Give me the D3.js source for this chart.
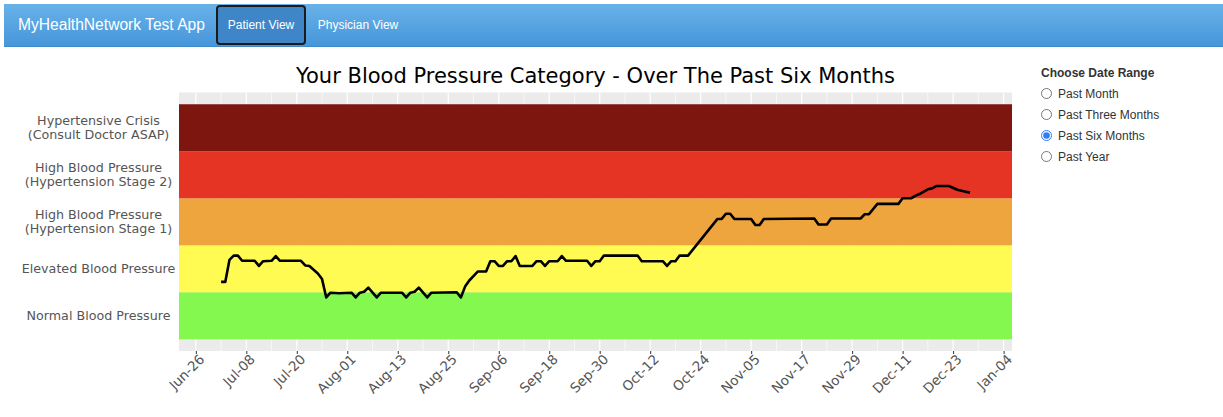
<!DOCTYPE html>
<html>
<head>
<meta charset="utf-8">
<script src="https://cdn.jsdelivr.net/npm/d3@7"></script>
<style>
  body { margin: 0; background: #fff; font-family: "Liberation Sans", Arial, sans-serif; }
  .navbar {
    position: absolute; left: 4px; top: 4px; width: 1219px; height: 42px;
    background: linear-gradient(#68b2e9, #4796da);
    border-bottom: 1px solid #3f8acb;
  }
  .brand { position: absolute; left: 14px; top: 12px; font-size: 15.6px; color: #fff; }
  .nav-btn {
    position: absolute; top: 1px; height: 40px; box-sizing: border-box;
    font-size: 12px; color: #fff; line-height: 40px; text-align: center;
  }
  .nav-btn.active { left: 212px; width: 90px; background: #3e86c7; border: 2px solid #1b1b1b; border-radius: 4px; line-height: 36px; }
  .nav-btn.plain { left: 304px; width: 100px; }
  .panel { position: absolute; left: 1041px; top: 66px; font-size: 12px; color: #333; }
  .panel h4 { margin: 0 0 3px 0; font-size: 12px; font-weight: bold; }
  .panel label { display: flex; align-items: center; height: 21px; }
  .panel input { margin: 0 6px 0 0; width: 11px; height: 11px; accent-color: #2f7cf6; }
  #chart { position: absolute; left: 0; top: 0; }
</style>
</head>
<body>
<svg id="chart" width="1030" height="417"></svg>
<div class="navbar">
  <div class="brand">MyHealthNetwork Test App</div>
  <div class="nav-btn active">Patient View</div>
  <div class="nav-btn plain">Physician View</div>
</div>
<div class="panel">
  <h4>Choose Date Range</h4>
  <label><input type="radio" name="r">Past Month</label>
  <label><input type="radio" name="r">Past Three Months</label>
  <label><input type="radio" name="r" checked>Past Six Months</label>
  <label><input type="radio" name="r">Past Year</label>
</div>
<script>
// blood pressure categories, bottom to top
const categories = [
  ['Normal Blood Pressure'],
  ['Elevated Blood Pressure'],
  ['High Blood Pressure', '(Hypertension Stage 1)'],
  ['High Blood Pressure', '(Hypertension Stage 2)'],
  ['Hypertensive Crisis', '(Consult Doctor ASAP)']
];
const bandColors = ['#84f84f', '#fffb53', '#efa53e', '#e53324', '#7e1610'];

// x tick labels (every 12 days)
const tickDates = ['2019-06-26', '2019-07-08', '2019-07-20', '2019-08-01', '2019-08-13',
  '2019-08-25', '2019-09-06', '2019-09-18', '2019-09-30', '2019-10-12', '2019-10-24',
  '2019-11-05', '2019-11-17', '2019-11-29', '2019-12-11', '2019-12-23', '2020-01-04'];
const xLimits = ['2019-06-22', '2020-01-06'];

// category level over time (0 = bottom of Normal band)
const dates = ['2019-07-02', '2019-07-03', '2019-07-04', '2019-07-05', '2019-07-06', '2019-07-07',
  '2019-07-10', '2019-07-11', '2019-07-12', '2019-07-14', '2019-07-15', '2019-07-16',
  '2019-07-21', '2019-07-22', '2019-07-23', '2019-07-25', '2019-07-26', '2019-07-27',
  '2019-07-28', '2019-07-30', '2019-08-02', '2019-08-03', '2019-08-04', '2019-08-05',
  '2019-08-06', '2019-08-08', '2019-08-09', '2019-08-14', '2019-08-15', '2019-08-16',
  '2019-08-17', '2019-08-18', '2019-08-20', '2019-08-21', '2019-08-27', '2019-08-28',
  '2019-08-29', '2019-08-30', '2019-09-01', '2019-09-03', '2019-09-04', '2019-09-05',
  '2019-09-06', '2019-09-07', '2019-09-08', '2019-09-09', '2019-09-10', '2019-09-11',
  '2019-09-14', '2019-09-15', '2019-09-16', '2019-09-17', '2019-09-18', '2019-09-20',
  '2019-09-21', '2019-09-22', '2019-09-27', '2019-09-28', '2019-09-29', '2019-09-30',
  '2019-10-01', '2019-10-09', '2019-10-10', '2019-10-15', '2019-10-16', '2019-10-17',
  '2019-10-18', '2019-10-19', '2019-10-21', '2019-10-28', '2019-10-29', '2019-10-30',
  '2019-10-31', '2019-11-01', '2019-11-05', '2019-11-06', '2019-11-07', '2019-11-08',
  '2019-11-20', '2019-11-21', '2019-11-23', '2019-11-24', '2019-12-01', '2019-12-02',
  '2019-12-03', '2019-12-05', '2019-12-10', '2019-12-11', '2019-12-13', '2019-12-14',
  '2019-12-15', '2019-12-17', '2019-12-18', '2019-12-19', '2019-12-22', '2019-12-24',
  '2019-12-26', '2019-12-27'];
const levels = [1.22, 1.22, 1.69, 1.78, 1.78, 1.67,
  1.67, 1.56, 1.66, 1.67, 1.77, 1.67,
  1.67, 1.57, 1.56, 1.40, 1.28, 0.89,
  0.99, 0.98, 0.99, 0.89, 0.99, 1.01,
  1.10, 0.89, 0.99, 0.99, 0.89, 0.99,
  1.01, 1.10, 0.89, 0.99, 1.00, 0.89,
  1.12, 1.25, 1.44, 1.44, 1.66, 1.66,
  1.56, 1.56, 1.66, 1.66, 1.77, 1.56,
  1.56, 1.66, 1.66, 1.56, 1.66, 1.66,
  1.77, 1.67, 1.67, 1.56, 1.66, 1.66,
  1.78, 1.78, 1.66, 1.66, 1.56, 1.66,
  1.66, 1.78, 1.78, 2.56, 2.56, 2.67,
  2.67, 2.56, 2.56, 2.43, 2.43, 2.56,
  2.57, 2.44, 2.44, 2.57, 2.57, 2.66,
  2.66, 2.88, 2.88, 3.00, 3.00, 3.05,
  3.09, 3.19, 3.21, 3.26, 3.26, 3.18,
  3.14, 3.12];

const parse = d3.timeParse('%Y-%m-%d');
const fmt = d3.timeFormat('%b-%d');

const margin = {top: 92.5, left: 179, right: 18, bottom: 66};
const width = 1030 - margin.left - margin.right;
const height = 417 - margin.top - margin.bottom;

const svg = d3.select('#chart');
const g = svg.append('g').attr('transform', `translate(${margin.left},${margin.top})`);

const x = d3.scaleTime()
  .domain(xLimits.map(parse))
  .range([0, width]);
const y = d3.scaleLinear()
  .domain([-0.25, categories.length + 0.25])
  .range([height, 0]);

// panel background
g.append('rect').attr('width', width).attr('height', height).attr('fill', '#ebebeb');

const ticks = tickDates.map(parse);
const minor = ticks.map(t => d3.timeDay.offset(t, 6)).filter(t => t < x.domain()[1]);
g.selectAll('.minor').data(minor).join('line')
  .attr('x1', d => x(d)).attr('x2', d => x(d)).attr('y1', 0).attr('y2', height)
  .attr('stroke', '#fff').attr('stroke-width', 0.6);
g.selectAll('.major').data(ticks).join('line')
  .attr('x1', d => x(d)).attr('x2', d => x(d)).attr('y1', 0).attr('y2', height)
  .attr('stroke', '#fff').attr('stroke-width', 1.2);

// category bands
g.selectAll('.band').data(categories).join('rect')
  .attr('x', 0).attr('width', width)
  .attr('y', (d, i) => y(i + 1)).attr('height', (d, i) => y(i) - y(i + 1))
  .attr('fill', (d, i) => bandColors[i]);

// line
const series = dates.map((d, i) => ({date: parse(d), v: levels[i]}));
g.append('path').datum(series)
  .attr('fill', 'none').attr('stroke', '#000').attr('stroke-width', 2.6)
  .attr('stroke-linejoin', 'round')
  .attr('d', d3.line().x(d => x(d.date)).y(d => y(d.v)));

// x axis
const xAxis = d3.axisBottom(x).tickValues(ticks).tickFormat(fmt).tickSize(3).tickPadding(4);
const xg = g.append('g').attr('transform', `translate(0,${height})`).call(xAxis);
xg.select('.domain').remove();
xg.selectAll('.tick line').attr('stroke', '#333');
xg.selectAll('.tick text')
  .attr('font-family', 'DejaVu Sans').attr('font-size', 13.5).attr('fill', '#555')
  .attr('text-anchor', 'end')
  .attr('transform', 'translate(1,1) rotate(-45)')
  .attr('dy', '0.7em').attr('y', 2);

// y labels
const yl = g.append('g');
categories.forEach((lines, i) => {
  const cy = y(i + 0.5);
  const t = yl.append('text')
    .attr('x', 98.5 - margin.left).attr('y', cy)
    .attr('text-anchor', 'middle')
    .attr('font-family', 'DejaVu Sans').attr('font-size', 12.7).attr('fill', '#555');
  lines.forEach((s, j) => {
    t.append('tspan').attr('x', 98.5 - margin.left)
      .attr('y', cy + (j - (lines.length - 1) / 2) * 13.8)
      .attr('dy', '0.36em').text(s);
  });
});

// title
svg.append('text')
  .attr('x', margin.left + width / 2).attr('y', 83)
  .attr('text-anchor', 'middle')
  .attr('font-family', 'DejaVu Sans').attr('font-size', 21).attr('fill', '#000')
  .text('Your Blood Pressure Category - Over The Past Six Months');
</script>
</body>
</html>
